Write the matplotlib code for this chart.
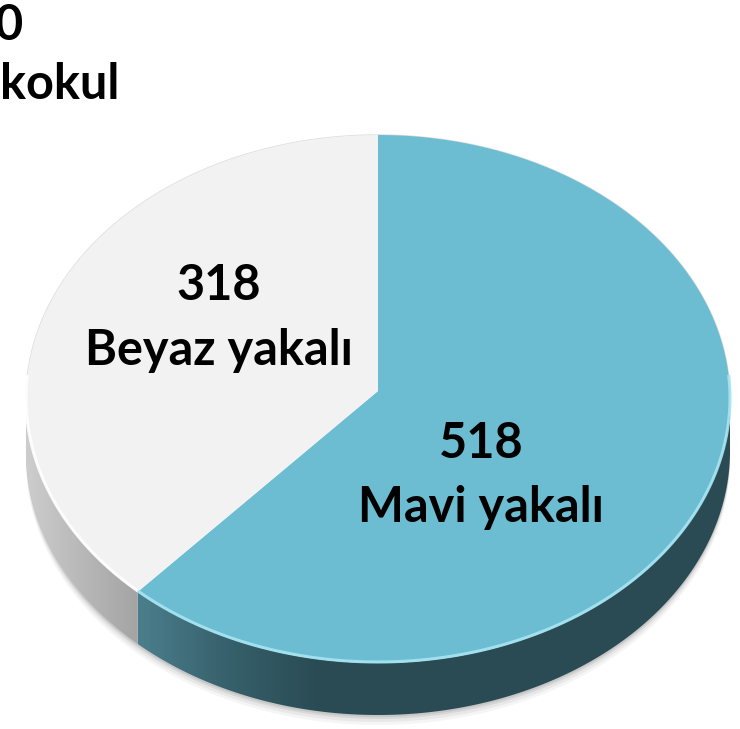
import numpy as np
import matplotlib
matplotlib.use("Agg")
import matplotlib.pyplot as plt
from matplotlib.patches import Polygon
from matplotlib.colors import LinearSegmentedColormap

# ---- data ----
categories = ["Beyaz yakalı", "Mavi yakalı"]
values = [318, 518]
value_labels = ["318", "518"]
title_fragments = ["0", "kokul"]

# ---- style ----
top_colors = {"Mavi yakalı": "#6cbdd2", "Beyaz yakalı": "#f2f2f2"}
side_cmaps = {
    "Mavi yakalı": LinearSegmentedColormap.from_list("b", ["#4b7e8c", "#36606b", "#2a4b54", "#2a4b54"]),
    "Beyaz yakalı": LinearSegmentedColormap.from_list("w", ["#cdcdcd", "#b8b8b8", "#a4a4a4"]),
}
rim_colors = {"Mavi yakalı": "#a8e4f2", "Beyaz yakalı": "#ffffff"}

W, H = 740, 729
fig = plt.figure(figsize=(W / 100, H / 100), dpi=100)
ax = fig.add_axes([0, 0, 1, 1])
ax.set_xlim(0, W)
ax.set_ylim(H, 0)
ax.axis("off")

cx, cy, rx, ry, depth = 378, 399, 352, 264, 52

def pt(theta_deg, dy=0.0):
    t = np.radians(theta_deg)
    return cx + rx * np.cos(t), cy - ry * np.sin(t) + dy

# slice angles: start at 12 o'clock, blue first, clockwise
order = ["Mavi yakalı", "Beyaz yakalı"]
vals = dict(zip(categories, values))
labels = dict(zip(categories, value_labels))
total = sum(values)
slices = {}
start = 90.0
for name in order:
    span = 360.0 * vals[name] / total
    slices[name] = (start - span, start)
    start -= span

# ---- shadow ----
for off, alpha in [(10, 0.04), (7, 0.05), (4, 0.07), (2, 0.08)]:
    th = np.linspace(180, 360, 200)
    xs, ys = pt(th, depth + off)
    xs2, ys2 = pt(th[::-1], 0)
    ax.add_patch(Polygon(np.column_stack([np.r_[xs, xs2], np.r_[ys, ys2]]),
                         closed=True, facecolor="black", edgecolor="none", alpha=alpha))

# ---- side walls ----
grad = np.linspace(0, 1, 256).reshape(1, -1)
for name in order:
    a, b = slices[name]
    segs = []
    for shift in (-360, 0, 360):
        lo, hi = max(a + shift, 180), min(b + shift, 360)
        if hi > lo:
            segs.append((lo, hi))
    for lo, hi in segs:
        th = np.linspace(lo, hi, 200)
        xs, ys = pt(th)
        xb, yb = pt(th[::-1], depth)
        verts = np.column_stack([np.r_[xs, xb], np.r_[ys, yb]])
        poly = Polygon(verts, closed=True, facecolor="none", edgecolor="none")
        ax.add_patch(poly)
        x0, x1 = verts[:, 0].min(), verts[:, 0].max()
        g = np.clip(grad * 2.2, 0, 1) if name == "Mavi yakalı" else grad
        im = ax.imshow(g, cmap=side_cmaps[name],
                       extent=[x0, x1, verts[:, 1].max(), verts[:, 1].min()],
                       aspect="auto", zorder=2)
        im.set_clip_path(poly)

# ---- top faces ----
for name in order:
    a, b = slices[name]
    th = np.linspace(a, b, 300)
    xs, ys = pt(th)
    verts = np.column_stack([np.r_[cx, xs], np.r_[cy - 8, ys]])
    ax.add_patch(Polygon(verts, closed=True, facecolor=top_colors[name],
                         edgecolor="none", zorder=3))

# ---- rim highlights on the front edge ----
for name in order:
    a, b = slices[name]
    for shift in (-360, 0, 360):
        lo, hi = max(a + shift, 175), min(b + shift, 365)
        if hi > lo:
            th = np.linspace(lo, hi, 200)
            xs, ys = pt(th, -1)
            ax.plot(xs, ys, color=rim_colors[name], lw=2.2, alpha=0.9, zorder=4,
                    solid_capstyle="butt")
th = np.linspace(0, 180, 300)
xs, ys = pt(th)
ax.plot(xs, ys, color="#dcdcdc", lw=1.0, zorder=2.5)

# ---- labels ----
font = dict(family=["Lato", "DejaVu Sans"], fontweight="bold", color="black")
label_pos = {"Beyaz yakalı": (219, 318), "Mavi yakalı": (481, 476)}
for name in categories:
    x, y = label_pos[name]
    ax.text(x, y - 33, labels[name], ha="center", va="center", fontsize=35, zorder=5, **font)
    ax.text(x, y + 32, name, ha="center", va="center", fontsize=35, zorder=5, **font)

ax.text(-5, 25, title_fragments[0], ha="left", va="center", fontsize=35, zorder=5, **font)
ax.text(0, 84, title_fragments[1], ha="left", va="center", fontsize=35, zorder=5, **font)

fig.savefig("out.png", dpi=100)
